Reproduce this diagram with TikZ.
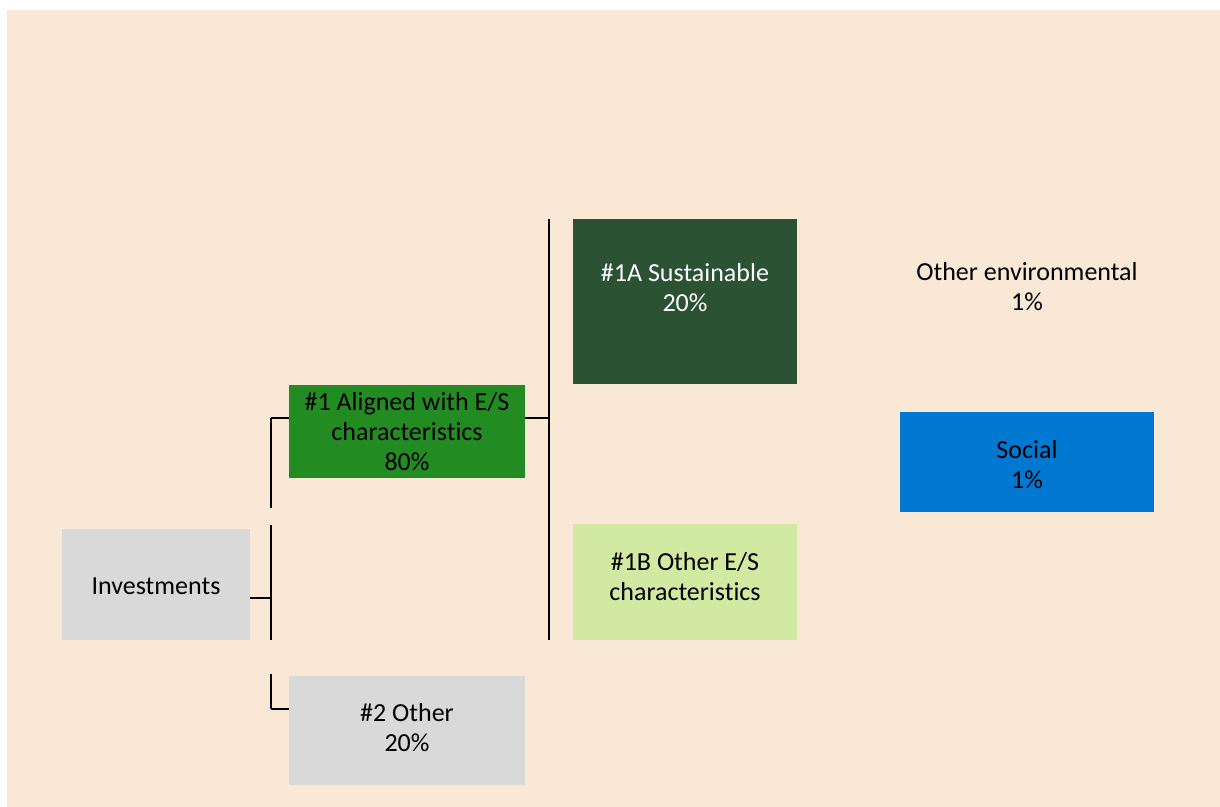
\documentclass[tikz,border=0pt]{standalone}
\usepackage{fontspec}
\setmainfont{Carlito}[Ligatures={NoCommon}]
\definecolor{bgpeach}{HTML}{FAE8D7}
\definecolor{boxgray}{HTML}{D9D9D9}
\definecolor{algreen}{HTML}{228B22}
\definecolor{dkgreen}{HTML}{2C5234}
\definecolor{ltgreen}{HTML}{D1E9A0}
\definecolor{socblue}{HTML}{0077D0}
\begin{document}
\begin{tikzpicture}[x=0.5pt,y=-0.5pt,
  box/.style={draw=none, inner sep=0pt, outer sep=0pt, align=center,
    font=\fontsize{13}{15}\selectfont},
  txt/.style={inner sep=0pt, align=center, font=\fontsize{13}{15}\selectfont},
  conn/.style={line width=1pt, black}]
\useasboundingbox (0,0) rectangle (1220,807);
\fill[white] (0,0) rectangle (1220,807);
\fill[bgpeach] (7,10) rectangle (1220,807);

\node[box, fill=boxgray, minimum width=94pt, minimum height=55.5pt] (inv) at (156,584.5) {};
\node[txt] (invt) at (156,586) {Investments};
\node[box, fill=algreen, minimum width=118pt, minimum height=46.5pt] (a1) at (407,431.5) {};
\node[txt] (a1t) at (407,431.5) {\#1 Aligned with E/S\\characteristics\\80\%};
\node[box, fill=boxgray, minimum width=118pt, minimum height=54.5pt] (oth) at (407,730.5) {};
\node[txt] (otht) at (407,727.5) {\#2 Other\\20\%};
\node[box, fill=dkgreen, minimum width=112pt, minimum height=82.5pt] (s1a) at (685,301.5) {};
\node[txt, text=white] (s1at) at (685,288) {\#1A Sustainable\\20\%};
\node[box, fill=ltgreen, minimum width=112pt, minimum height=58pt] (s1b) at (685,582) {};
\node[txt] (s1bt) at (685,576.5) {\#1B Other E/S\\characteristics};
\node[txt] (oenv) at (1027,286.5) {Other environmental\\1\%};
\node[box, fill=socblue, minimum width=127pt, minimum height=50pt] (soc) at (1027,462) {};
\node[txt] (soct) at (1027,464.5) {Social\\1\%};

\coordinate (jt) at (271,418);
\coordinate (jg1) at (271,508);
\coordinate (jg2) at (271,525);
\coordinate (jm) at (271,598);
\coordinate (jg3) at (271,640);
\coordinate (jg4) at (271,674);
\coordinate (jb) at (271,709);
\coordinate (vt) at (549,219);
\coordinate (vm) at (549,418);
\coordinate (vb) at (549,640);

\draw[conn] (jt) -- (jg1);
\draw[conn] (jg2) -- (jg3);
\draw[conn] (jg4) -- (jb);
\draw[conn] (inv.east |- jm) -- (jm);
\draw[conn] (jt) -- (a1.west |- jt);
\draw[conn] (jb) -- (oth.west |- jb);
\draw[conn] (a1.east |- vm) -- (vm);
\draw[conn] (vt) -- (vb);
\end{tikzpicture}
\end{document}
